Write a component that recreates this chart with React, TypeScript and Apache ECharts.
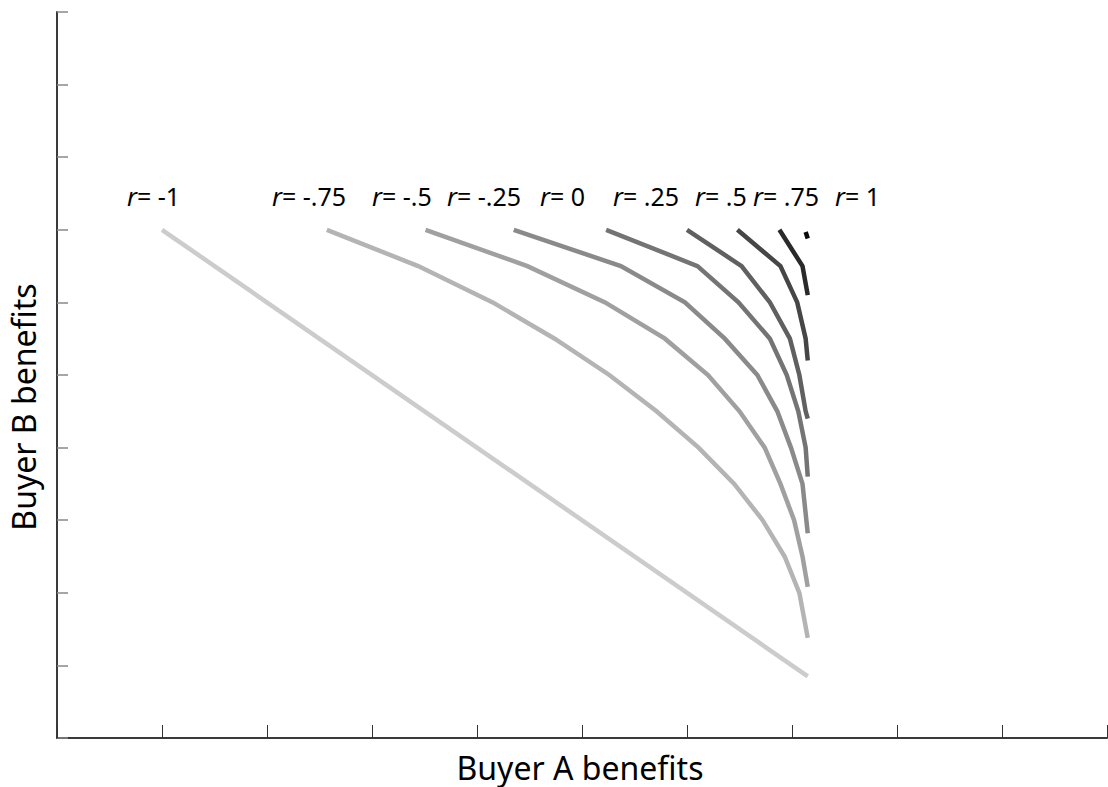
import React, { useEffect, useRef } from "react";
import * as echarts from "echarts";

// r values shown in the labels
const rLabels = ["-1", "-.75", "-.5", "-.25", "0", ".25", ".5", ".75", "1"];

// each frontier as [Buyer A benefits, Buyer B benefits]
const curveNeg100 = [[1.0, 7.0], [7.15, 0.85]];
const curveNeg075 = [[2.57, 7], [3.44, 6.5], [4.15, 6], [4.74, 5.5], [5.26, 5], [5.71, 4.5], [6.11, 4], [6.45, 3.5], [6.72, 3], [6.93, 2.5], [7.07, 2], [7.15, 1.38]];
const curveNeg050 = [[3.51, 7], [4.48, 6.5], [5.22, 6], [5.79, 5.5], [6.2, 5], [6.5, 4.5], [6.74, 4], [6.89, 3.5], [7.02, 3], [7.1, 2.5], [7.15, 2.08]];
const curveNeg025 = [[4.35, 7], [5.37, 6.5], [5.98, 6], [6.36, 5.5], [6.67, 5], [6.86, 4.5], [6.99, 4], [7.1, 3.5], [7.15, 2.82]];
const curve000 = [[5.23, 7], [6.1, 6.5], [6.49, 6], [6.79, 5.5], [6.95, 5], [7.06, 4.5], [7.13, 4], [7.15, 3.6]];
const curve025 = [[6.0, 7], [6.52, 6.5], [6.79, 6], [6.98, 5.5], [7.07, 5], [7.13, 4.5], [7.15, 4.4]];
const curve050 = [[6.48, 7], [6.89, 6.5], [7.05, 6], [7.13, 5.5], [7.15, 5.2]];
const curve075 = [[6.88, 7], [7.1, 6.5], [7.15, 6.1]];
const curve100 = [[7.13, 6.97], [7.15, 6.88]];

const curves = [curveNeg100, curveNeg075, curveNeg050, curveNeg025, curve000, curve025, curve050, curve075, curve100];

// axis ticks (no tick labels are shown)
const xTicks = [0, 1, 2, 3, 4, 5, 6, 7, 8, 9, 10];
const yTicks = [0, 1, 2, 3, 4, 5, 6, 7, 8, 9, 10];

const lineColors = ["#cccccc", "#b4b4b4", "#a0a0a0", "#8a8a8a", "#747474", "#606060", "#464646", "#2a2a2a", "#0a0a0a"];
const labelLeft = [127, 272, 372, 447, 540, 613, 695, 753, 835];

const FONT = "'Noto Sans', 'Open Sans', sans-serif";

export default function App() {
  const ref = useRef<HTMLDivElement>(null);

  useEffect(() => {
    if (!ref.current) return;
    const chart = echarts.init(ref.current, undefined, { renderer: "svg" });

    const labelGraphics = rLabels.map((r, i) => ({
      type: "text",
      x: labelLeft[i],
      y: 196,
      style: {
        text: `{i|r}{n|= ${r}}`,
        align: "left",
        verticalAlign: "middle",
        fill: "#000",
        fontFamily: FONT,
        fontSize: 25,
        rich: {
          i: { fontStyle: "italic", fontFamily: FONT, fontSize: 25, fill: "#000" },
          n: { fontFamily: FONT, fontSize: 25, fill: "#000" },
        },
      },
    }));

    chart.setOption({
      animation: false,
      backgroundColor: "#ffffff",
      grid: { left: 57, right: 1, top: 12, bottom: 49, containLabel: false },
      xAxis: {
        type: "value",
        min: xTicks[0],
        max: xTicks[xTicks.length - 1],
        interval: 1,
        axisLine: { show: true, onZero: false, lineStyle: { color: "#3a3a3a", width: 2 } },
        axisTick: { show: true, inside: true, length: 13, lineStyle: { color: "#333", width: 1 } },
        axisLabel: { show: false },
        splitLine: { show: false },
      },
      yAxis: {
        type: "value",
        min: yTicks[0],
        max: yTicks[yTicks.length - 1],
        interval: 1,
        axisLine: { show: true, onZero: false, lineStyle: { color: "#3a3a3a", width: 2 } },
        axisTick: { show: true, inside: true, length: 11, lineStyle: { color: "#888", width: 1.5 } },
        axisLabel: { show: false },
        splitLine: { show: false },
      },
      series: curves.map((c, i) => ({
        type: "line",
        name: "r= " + rLabels[i],
        data: c,
        showSymbol: false,
        symbol: "none",
        lineStyle: { color: lineColors[i], width: 4.5, cap: "butt", join: "miter" },
        silent: true,
        z: 2 + i,
      })),
      graphic: [
        ...labelGraphics,
        {
          type: "text",
          x: 580,
          y: 767,
          style: {
            text: "Buyer A benefits",
            align: "center",
            verticalAlign: "middle",
            fill: "#000",
            fontFamily: FONT,
            fontSize: 32,
          },
        },
        {
          type: "text",
          x: 23,
          y: 407,
          rotation: Math.PI / 2,
          style: {
            text: "Buyer B benefits",
            align: "center",
            verticalAlign: "middle",
            fill: "#000",
            fontFamily: FONT,
            fontSize: 32,
          },
        },
      ],
    });

    return () => {
      chart.dispose();
    };
  }, []);

  return (
    <div
      ref={ref}
      style={{ position: "fixed", left: 0, top: 0, width: 1108, height: 787, background: "#fff" }}
    />
  );
}
